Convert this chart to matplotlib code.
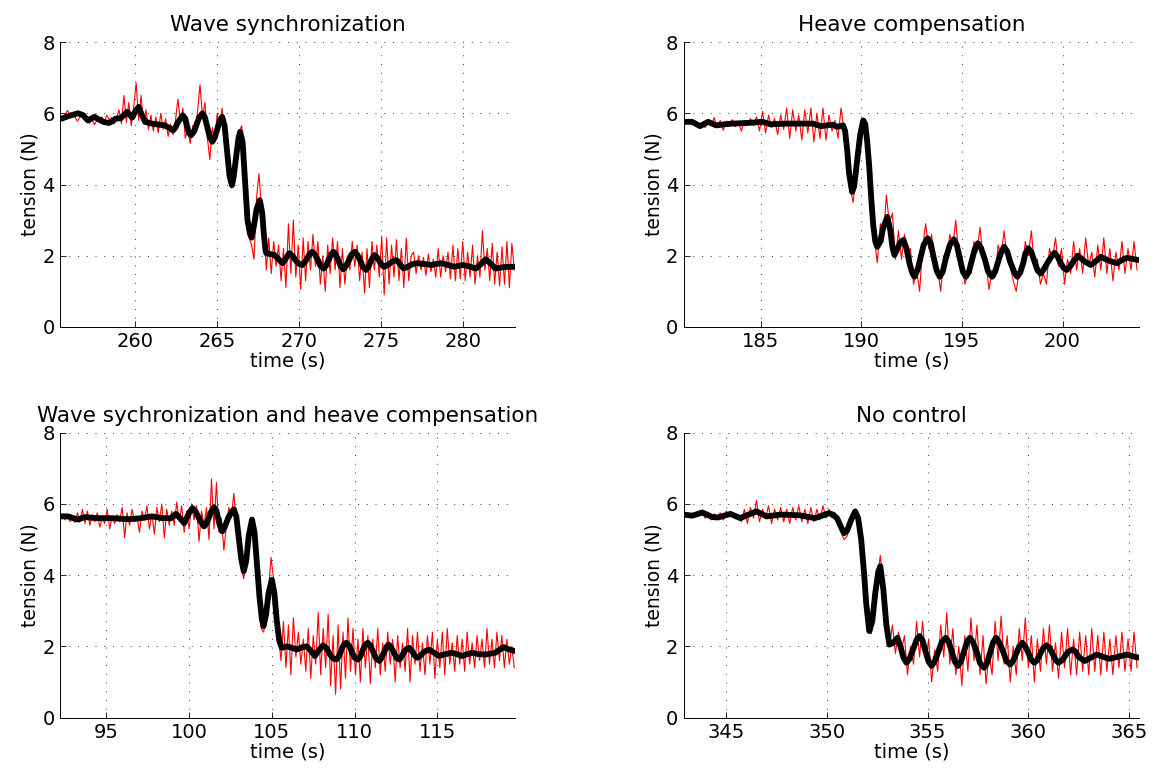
import numpy as np
import matplotlib.pyplot as plt

plt.rcParams['font.family'] = ['DejaVu Sans']

# ---------------- data ----------------
titles = ["Wave synchronization", "Heave compensation",
          "Wave sychronization and heave compensation", "No control"]
xlims = [(255.4, 283.2), (181.2, 203.8), (92.2, 119.7), (342.9, 365.5)]
xticks = [[260, 265, 270, 275, 280], [185, 190, 195, 200],
          [95, 100, 105, 110, 115], [345, 350, 355, 360, 365]]
yticks = [0, 2, 4, 6, 8]

# raw measured tension (red), sampled every 0.15 s from t0
dt = 0.15
ws_t0 = 255.4
ws_raw = [
    5.82, 5.9, 5.95, 6.08, 5.98, 6.02, 5.9, 5.78, 5.88, 5.95, 5.8, 5.85, 5.72, 5.82, 5.68, 5.8,
    5.78, 5.9, 5.75, 5.95, 5.82, 5.88, 5.7,
    5.85, 6.1, 5.7, 6.5, 5.75, 6.3, 5.65, 6.2, 6.85, 5.8, 6.5,
    5.7, 6.1, 5.55, 5.95, 5.5, 5.9, 5.45, 6.0, 5.55, 5.85, 5.35, 5.7, 5.4,
    5.8, 6.4, 5.75, 6.15, 5.3, 5.55, 5.15, 5.65, 5.5, 6.05, 6.8, 5.9, 6.3,
    5.3, 4.7, 5.6, 5.2, 6.0, 5.6,
    6.15, 5.4, 4.7, 4.0, 3.9,
    4.2, 4.8, 5.5, 5.65,
    4.6, 3.4, 2.5, 2.3,
    1.9, 3.6, 4.3, 3.4,
    2.9, 1.6, 2.5, 1.5, 2.4, 1.7, 2.3, 1.3, 2.2, 1.1, 2.9, 1.5, 3.0, 1.4, 2.3, 1.05, 2.5, 1.3,
    2.4, 1.6, 2.6, 1.7, 2.4, 1.2, 2.0, 1.0, 2.3, 1.5, 2.5, 1.6, 2.4, 1.1, 2.2, 1.2, 2.0, 1.6,
    2.4, 1.7, 2.3, 1.3, 2.1, 0.95, 2.2, 1.1, 2.4, 1.6, 2.3, 1.4, 2.55, 0.9, 2.5, 1.2, 2.3, 1.4,
    2.45, 1.3, 2.2, 1.1, 2.5, 1.3, 2.0,
    2.1, 1.5, 2.0, 1.6, 1.95, 1.45, 2.05, 1.55, 1.9, 1.4, 2.2, 1.4, 2.0, 1.55, 2.1, 1.35, 2.3,
    1.3, 2.2, 1.35, 2.4, 1.3, 2.1, 1.4, 2.3, 1.2, 2.0, 1.4, 2.7, 1.6, 2.2, 1.3, 2.35, 1.2, 2.1,
    1.15, 2.25, 1.2, 2.4, 1.1, 2.35, 1.6,
]
hc_t0 = 181.2
hc_raw = [
    5.78, 5.72, 5.8, 5.7, 5.75, 5.62, 5.7, 5.6, 5.75, 5.65, 5.88, 5.6, 5.8, 5.52, 5.78, 5.7,
    5.82, 5.62, 5.75, 5.5, 5.8, 5.7,
    5.85, 5.65, 5.9, 5.5, 6.05, 5.45, 5.95, 5.6, 5.85, 5.4, 5.95, 5.55, 6.15, 5.3, 6.1, 5.5,
    5.95, 5.25, 6.1, 5.45, 6.15, 5.2, 6.0, 5.3, 6.15, 5.25, 5.95, 5.5, 5.8, 5.3, 6.15,
    5.5, 4.6, 3.9, 3.5, 4.2, 5.2, 5.8, 5.7, 4.8, 3.6, 2.5,
    1.8, 2.9, 2.4, 3.7, 2.9, 3.2, 1.9, 2.7, 1.9, 2.6, 2.1, 2.2, 1.2, 1.6, 1.0,
    2.2, 2.9, 2.2, 2.6, 1.7, 1.6, 1.0, 2.0, 1.9, 2.6, 2.3, 3.0, 1.9, 2.0, 1.2, 1.5,
    1.5, 2.4, 2.1, 2.8, 1.9, 1.8, 1.05, 1.6, 1.4, 2.3, 2.0, 2.7, 1.9, 1.7, 1.3, 1.0,
    1.6, 1.5, 2.4, 2.0, 2.7, 1.7, 1.9, 1.2, 1.5, 1.2, 2.2, 1.9, 2.5, 1.7, 2.2, 1.2,
    1.9, 1.5, 2.4, 1.6, 2.2, 1.5, 2.5, 1.7, 2.1, 1.4, 2.3, 1.6, 2.5, 1.5, 2.2, 1.3,
    2.1, 1.6, 2.4, 1.5, 2.2, 1.6, 2.4, 1.6,
]
wh_t0 = 92.2
wh_raw = [
    5.6, 5.7, 5.55, 5.68, 5.5, 5.62, 5.48, 5.75, 5.5, 5.85, 5.45, 5.8, 5.4, 5.7, 5.5, 5.75,
    5.35, 5.6, 5.45, 5.85, 5.3, 5.65, 5.45, 5.7, 5.5, 5.9, 5.05, 5.75, 5.4, 5.85, 5.5, 5.65,
    5.2, 5.8, 5.55, 5.95, 5.3, 5.7, 5.15, 5.9, 5.5, 6.0, 5.05, 5.85, 5.4,
    5.8, 5.4, 6.05, 5.5, 5.95, 5.2, 5.8, 5.3, 6.0, 5.55, 5.95, 4.95, 5.8, 5.4, 5.9, 5.0,
    6.7, 5.3, 6.6, 5.2, 5.6, 4.7, 5.4, 5.9, 5.6, 6.3,
    5.5, 4.8, 4.2, 3.9, 4.6, 5.3, 5.6, 5.3,
    4.3, 3.3, 2.5, 2.4, 2.8, 3.6, 4.5, 3.9, 3.0, 2.3,
    1.6, 2.7, 1.4, 2.6, 1.2, 2.8, 1.7, 2.4, 1.5, 2.2, 1.3, 2.5, 1.1, 2.3, 1.5, 2.95,
    1.2, 2.5, 1.4, 2.9, 0.9, 2.3, 0.65, 2.6, 0.8, 2.4, 1.1, 2.8, 1.3, 2.5, 1.2,
    2.2, 1.0, 2.5, 1.4, 2.3, 0.95, 2.2, 1.4, 2.5, 1.2, 2.1, 1.3, 2.4, 1.5, 2.2, 1.0,
    2.3, 1.4, 2.1, 1.3, 2.5, 1.0, 2.3, 1.5, 2.4, 1.3, 2.1, 1.2, 2.3, 1.5, 2.4, 1.1,
    2.2, 1.4, 2.4, 1.2, 2.5, 1.5, 2.1, 1.3, 2.3, 1.5, 2.2, 1.3, 2.4, 1.5, 2.1, 1.4,
    2.3, 1.6, 2.2, 1.4, 2.5, 1.5, 2.2, 1.4, 2.4, 1.6, 2.3, 1.4, 2.2, 1.5, 2.0, 1.4,
]
nc_t0 = 342.9
nc_raw = [
    5.72, 5.65, 5.7, 5.62, 5.75, 5.7, 5.78, 5.6, 5.68, 5.55, 5.72, 5.62, 5.75, 5.55, 5.8, 5.65,
    5.72, 5.58,
    5.7, 5.5, 5.85, 5.45, 5.9, 5.6, 6.1, 5.5, 5.85, 5.6, 5.95, 5.45, 5.85, 5.55, 5.9, 5.5,
    5.85, 5.45, 5.9, 5.55, 5.95, 5.5, 5.85, 5.45, 5.9, 5.5, 5.85, 5.55, 5.95, 5.6, 5.85, 5.6,
    5.75,
    5.4, 5.2, 5.0, 5.1, 5.5, 5.75, 5.85, 5.5, 4.5, 3.3,
    2.6, 2.35, 2.8, 3.9, 4.55, 3.7, 2.6,
    2.0, 2.6, 1.8, 2.4, 1.9, 2.3, 1.2, 2.0, 1.5, 2.7, 1.7, 2.7, 1.6, 2.2, 1.0, 1.9,
    1.3, 2.6, 1.7, 2.95, 1.5, 2.5, 1.2, 2.0, 0.9, 2.3, 1.3, 2.8, 1.6, 2.6, 1.2, 2.3,
    0.95, 1.8, 1.2, 2.7, 1.6, 2.85, 1.5, 2.3, 1.0, 2.0, 1.2, 2.5, 1.6, 2.8, 1.4, 2.3,
    1.0, 2.2, 1.3, 2.5, 1.5, 2.6, 1.3, 2.1, 1.1, 2.4, 1.4, 2.5, 1.2, 2.2, 1.2, 2.4,
    1.3, 2.3, 1.2, 2.5, 1.3, 2.3, 1.2, 2.4, 1.3, 2.2, 1.2, 2.3, 1.4, 2.4, 1.3, 2.2,
    1.3, 2.4, 1.4,
]

# filtered tension (black): time / value pairs
ws_ft = [255.5, 255.9, 256.5, 256.8, 257.1, 257.3, 257.5, 257.8, 258.1, 258.4, 258.6, 258.8,
         259.1, 259.3, 259.5, 259.65, 259.8, 260.0, 260.2, 260.4, 260.6, 261.0, 261.3, 261.8,
         262.1, 262.3, 262.45, 262.6, 262.9, 263.05, 263.15, 263.25, 263.4, 263.6, 263.75, 263.9,
         264.1, 264.25, 264.4, 264.55, 264.7, 264.85, 265.0, 265.15, 265.3, 265.45, 265.6, 265.75,
         265.9, 266.0, 266.15, 266.3, 266.4, 266.55, 266.7, 266.85, 267.0, 267.1, 267.25, 267.4,
         267.6, 267.75, 267.85, 267.95, 268.0, 268.5, 268.75, 269.0, 269.2, 269.4, 269.6, 269.8,
         270.0, 270.2, 270.35, 270.5, 270.65, 270.8, 270.95, 271.15, 271.3, 271.5, 271.65, 271.8,
         271.95, 272.1, 272.25, 272.4, 272.55, 272.7, 272.85, 273.05, 273.2, 273.4, 273.55, 273.75,
         273.9, 274.1, 274.25, 274.35, 274.5, 274.6, 274.75, 274.9, 275.05, 275.2, 275.4, 275.55,
         275.75, 275.9, 276.05, 276.2, 276.4, 276.6, 276.9, 277.2, 277.6, 278.1, 278.4, 278.7,
         279.1, 279.5, 280.0, 280.4, 280.8, 281.1, 281.4, 281.7, 282.0, 282.5, 283.1]
ws_fv = [5.85, 5.92, 6.0, 5.95, 5.8, 5.85, 5.9, 5.82, 5.75, 5.73, 5.78, 5.85,
         5.86, 5.95, 6.04, 5.96, 5.88, 6.05, 6.18, 5.95, 5.76, 5.71, 5.69, 5.66,
         5.58, 5.52, 5.6, 5.75, 5.94, 5.85, 5.66, 5.47, 5.38, 5.5, 5.7, 5.88,
         6.0, 5.88, 5.6, 5.32, 5.2, 5.32, 5.55, 5.78, 5.9, 5.65, 4.95, 4.25,
         3.98, 4.2, 4.75, 5.3, 5.48, 5.2, 4.1, 3.0, 2.62, 2.51, 2.85, 3.3,
         3.56, 3.2, 2.6, 2.15, 2.07, 2.02, 1.9, 1.79, 1.93, 2.07, 2.0, 1.86,
         1.77, 1.74, 1.82, 1.93, 2.05, 2.11, 2.05, 1.88, 1.72, 1.64, 1.72, 1.88,
         2.03, 2.11, 2.03, 1.87, 1.7, 1.62, 1.7, 1.87, 2.03, 2.11, 2.03, 1.86,
         1.68, 1.6, 1.7, 1.81, 1.95, 2.02, 1.96, 1.85, 1.74, 1.69, 1.73, 1.79,
         1.85, 1.88, 1.84, 1.74, 1.64, 1.68, 1.76, 1.79, 1.77, 1.74, 1.77, 1.79,
         1.74, 1.69, 1.74, 1.7, 1.64, 1.76, 1.9, 1.78, 1.64, 1.68, 1.69]
hc_ft = [181.2, 181.6, 181.8, 182.0, 182.2, 182.4, 182.6, 182.8, 183.2, 183.6, 184.4, 185.1,
         185.5, 186.2, 187.6, 188.0, 188.3, 188.6, 188.8, 189.1, 189.2, 189.3, 189.4, 189.55,
         189.65, 189.8, 189.95, 190.1, 190.2, 190.3, 190.4, 190.5, 190.6, 190.7, 190.8, 190.95,
         191.1, 191.3, 191.45, 191.55, 191.65, 191.8, 191.95, 192.1, 192.25, 192.4, 192.55, 192.65,
         192.8, 192.95, 193.1, 193.3, 193.45, 193.6, 193.75, 193.9, 194.05, 194.2, 194.4, 194.6,
         194.75, 194.9, 195.05, 195.2, 195.35, 195.5, 195.65, 195.8, 195.95, 196.15, 196.3, 196.5,
         196.65, 196.8, 196.95, 197.1, 197.25, 197.4, 197.6, 197.75, 197.9, 198.05, 198.15, 198.3,
         198.45, 198.6, 198.75, 198.9, 199.05, 199.25, 199.45, 199.6, 199.75, 199.9, 200.05, 200.2,
         200.35, 200.55, 200.75, 200.9, 201.1, 201.4, 201.6, 201.9, 202.3, 202.7, 202.95, 203.2,
         203.76]
hc_fv = [5.76, 5.76, 5.7, 5.64, 5.7, 5.76, 5.71, 5.66, 5.69, 5.71, 5.73, 5.76,
         5.69, 5.71, 5.71, 5.64, 5.66, 5.68, 5.62, 5.66, 5.5, 5.0, 4.3, 3.79,
         3.95, 4.68, 5.4, 5.8, 5.7, 5.2, 4.5, 3.6, 2.85, 2.4, 2.25, 2.4,
         2.8, 3.09, 2.7, 2.25, 2.02, 2.2, 2.38, 2.44, 2.2, 1.78, 1.5, 1.41,
         1.6, 1.95, 2.3, 2.49, 2.35, 1.95, 1.58, 1.41, 1.55, 1.92, 2.3, 2.46,
         2.3, 1.92, 1.55, 1.41, 1.55, 1.88, 2.2, 2.35, 2.22, 1.88, 1.56, 1.41,
         1.55, 1.83, 2.1, 2.25, 2.12, 1.83, 1.54, 1.41, 1.53, 1.8, 2.06, 2.21,
         2.1, 1.85, 1.6, 1.5, 1.6, 1.8, 1.98, 2.08, 1.98, 1.8, 1.66, 1.6,
         1.68, 1.85, 2.0, 1.94, 1.84, 1.74, 1.82, 1.97, 1.86, 1.79, 1.88, 1.94,
         1.88]
wh_ft = [92.2, 92.7, 93.0, 93.3, 93.5, 93.7, 94.4, 95.3, 96.4, 97.1, 97.75, 98.4,
         98.9, 99.05, 99.2, 99.45, 99.7, 99.85, 100.0, 100.2, 100.4, 100.7, 100.9, 101.05,
         101.3, 101.5, 101.65, 101.85, 102.0, 102.15, 102.4, 102.7, 102.85, 103.0, 103.15, 103.3,
         103.45, 103.6, 103.8, 103.95, 104.1, 104.25, 104.4, 104.5, 104.65, 104.8, 105.0, 105.15,
         105.3, 105.45, 105.6, 105.9, 106.2, 106.5, 106.8, 107.1, 107.35, 107.6, 107.85, 108.1,
         108.3, 108.5, 108.7, 108.9, 109.05, 109.2, 109.35, 109.5, 109.7, 109.85, 110.0, 110.2,
         110.35, 110.5, 110.65, 110.8, 110.95, 111.15, 111.3, 111.5, 111.65, 111.8, 111.95, 112.05,
         112.2, 112.4, 112.55, 112.7, 112.85, 113.0, 113.15, 113.3, 113.45, 113.65, 113.8, 114.0,
         114.2, 114.5, 114.8, 115.1, 115.4, 115.85, 116.2, 116.5, 116.8, 117.1, 117.5, 117.9,
         118.5, 118.75, 119.0, 119.3, 119.65]
wh_fv = [5.65, 5.65, 5.6, 5.56, 5.6, 5.63, 5.6, 5.6, 5.57, 5.6, 5.65, 5.6,
         5.6, 5.66, 5.72, 5.6, 5.46, 5.6, 5.75, 5.88, 5.78, 5.5, 5.37, 5.45,
         5.75, 5.91, 5.8, 5.4, 5.23, 5.35, 5.65, 5.85, 5.65, 5.05, 4.45, 4.11,
         4.4, 5.1, 5.56, 5.2, 4.3, 3.4, 2.75, 2.57, 2.9, 3.5, 3.87, 3.5,
         2.7, 2.15, 1.96, 2.0, 1.96, 1.91, 1.97, 2.0, 1.88, 1.73, 1.9, 2.03,
         1.95, 1.78, 1.66, 1.63, 1.72, 1.9, 2.05, 2.1, 2.0, 1.82, 1.68, 1.63,
         1.72, 1.9, 2.05, 2.1, 2.02, 1.82, 1.66, 1.59, 1.7, 1.85, 2.0, 2.05,
         1.98, 1.8, 1.67, 1.63, 1.72, 1.85, 1.93, 1.96, 1.88, 1.73, 1.68, 1.75,
         1.85, 1.91, 1.82, 1.73, 1.77, 1.82, 1.78, 1.73, 1.78, 1.82, 1.78, 1.77,
         1.82, 1.9, 1.98, 1.92, 1.87]
nc_ft = [342.9, 343.3, 343.55, 343.8, 344.05, 344.3, 344.6, 344.9, 345.2, 345.45, 345.7, 346.1,
         346.5, 346.75, 347.0, 347.7, 348.65, 349.4, 349.75, 350.1, 350.3, 350.5, 350.7, 350.85,
         351.0, 351.2, 351.4, 351.55, 351.7, 351.85, 351.95, 352.1, 352.25, 352.4, 352.55, 352.65,
         352.8, 352.95, 353.1, 353.3, 353.5, 353.65, 353.8, 353.95, 354.1, 354.3, 354.45, 354.6,
         354.75, 354.9, 355.05, 355.2, 355.35, 355.55, 355.7, 355.9, 356.05, 356.2, 356.35, 356.5,
         356.65, 356.8, 356.95, 357.1, 357.25, 357.45, 357.6, 357.8, 357.95, 358.1, 358.25, 358.4,
         358.55, 358.75, 358.9, 359.1, 359.25, 359.4, 359.55, 359.7, 359.85, 360.0, 360.15, 360.3,
         360.45, 360.6, 360.75, 360.9, 361.05, 361.2, 361.35, 361.5, 361.7, 361.85, 362.0, 362.2,
         362.35, 362.5, 362.8, 363.1, 363.4, 363.7, 364.0, 364.4, 364.9, 365.2, 365.5]
nc_fv = [5.7, 5.67, 5.71, 5.76, 5.7, 5.63, 5.62, 5.67, 5.72, 5.66, 5.6, 5.7,
         5.79, 5.72, 5.65, 5.7, 5.68, 5.6, 5.67, 5.74, 5.7, 5.6, 5.35, 5.18,
         5.25, 5.55, 5.79, 5.6, 5.0, 4.0, 3.2, 2.43, 2.7, 3.5, 4.1, 4.25,
         3.6, 2.6, 2.05, 2.1, 2.24, 2.0, 1.68, 1.54, 1.65, 1.95, 2.18, 2.29,
         2.16, 1.85, 1.57, 1.45, 1.58, 1.88, 2.12, 2.24, 2.12, 1.85, 1.57, 1.45,
         1.57, 1.85, 2.12, 2.24, 2.12, 1.82, 1.53, 1.4, 1.53, 1.82, 2.11, 2.24,
         2.12, 1.85, 1.6, 1.49, 1.6, 1.8, 2.0, 2.1, 2.0, 1.82, 1.62, 1.54,
         1.62, 1.8, 1.96, 2.03, 1.96, 1.8, 1.62, 1.54, 1.62, 1.75, 1.86, 1.91,
         1.85, 1.7, 1.59, 1.68, 1.77, 1.71, 1.65, 1.7, 1.77, 1.72, 1.68]

raw = [(ws_t0, ws_raw), (hc_t0, hc_raw), (wh_t0, wh_raw), (nc_t0, nc_raw)]
filt = [(ws_ft, ws_fv), (hc_ft, hc_fv), (wh_ft, wh_fv), (nc_ft, nc_fv)]

# ---------------- figure ----------------
fig = plt.figure(figsize=(11.55, 7.72), dpi=100)
boxes = [[0.052, 0.5765, 0.394, 0.369], [0.5922, 0.5765, 0.394, 0.369],
         [0.052, 0.0705, 0.394, 0.369], [0.5922, 0.0705, 0.394, 0.369]]

for i in range(4):
    ax = fig.add_axes(boxes[i])
    t0, vals = raw[i]
    t = t0 + dt * np.arange(len(vals))
    ax.plot(t, vals, color='red', lw=0.8)
    ax.plot(filt[i][0], filt[i][1], color='black', lw=4.2,
            solid_joinstyle='round', solid_capstyle='round')
    ax.set_xlim(xlims[i])
    ax.set_ylim(0, 8)
    ax.set_xticks(xticks[i])
    ax.set_yticks(yticks)
    ax.grid(True, color='#333333', linestyle=(0, (1, 8)), linewidth=0.7)
    for s in ['top', 'right']:
        ax.spines[s].set_visible(False)
    for s in ['left', 'bottom']:
        ax.spines[s].set_linewidth(0.7)
    ax.tick_params(direction='in', length=4, width=0.6, labelsize=14, pad=4)
    ax.set_xlabel('time (s)', fontsize=14, labelpad=0)
    ax.set_ylabel('tension (N)', fontsize=13.5, labelpad=2)
    ax.set_title(titles[i], fontsize=15.5, pad=8)

fig.savefig('out.png', dpi=100)
